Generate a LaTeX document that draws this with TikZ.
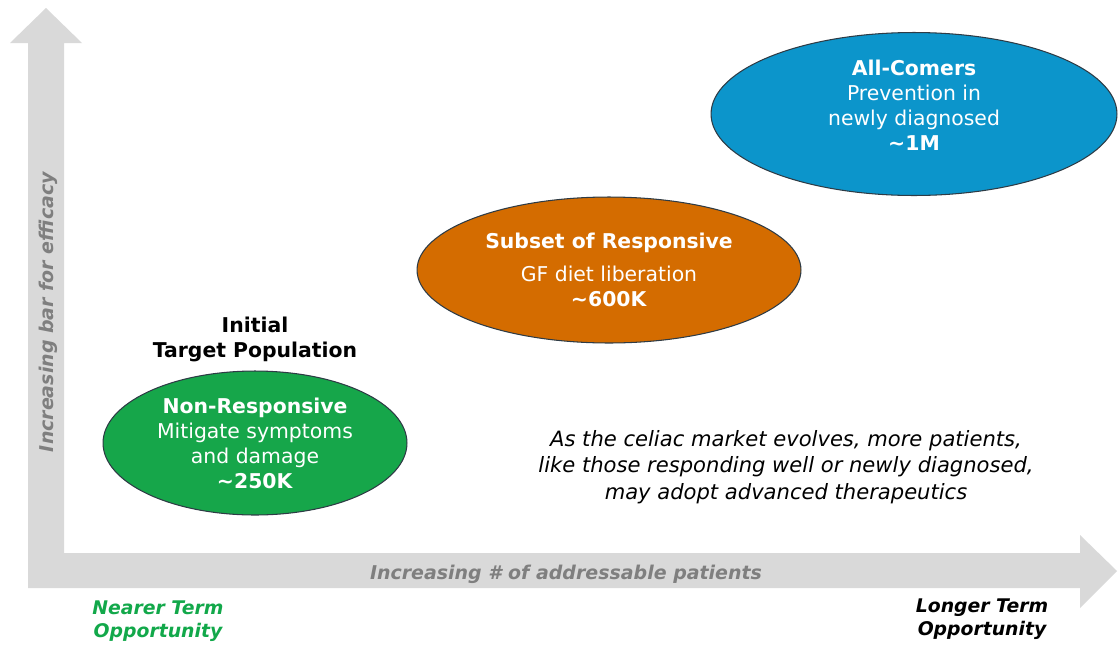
\documentclass[tikz,border=0pt]{standalone}
\usepackage{fontspec}
\setmainfont{DejaVu Sans}[ItalicFont={DejaVu Sans Oblique},BoldItalicFont={DejaVu Sans Bold Oblique}]
\usetikzlibrary{shapes.geometric,positioning}

\definecolor{axisgray}{HTML}{D9D9D9}
\definecolor{labelgray}{HTML}{7F7F7F}
\definecolor{rimgray}{HTML}{2E3B45}
\definecolor{nongreen}{HTML}{16A64A}
\definecolor{subsetorange}{HTML}{D46C00}
\definecolor{comersblue}{HTML}{0C95CB}
\definecolor{neargreen}{HTML}{12A84A}

\begin{document}
\begin{tikzpicture}[x=0.02cm, y=-0.02cm,
		axis/.style={fill=axisgray, draw=none},
		axislab/.style={font=\fontsize{10.8}{13}\selectfont\bfseries\itshape, text=labelgray, inner sep=0pt},
		term/.style={font=\fontsize{10.7}{13}\selectfont\bfseries\itshape, align=center, inner sep=0pt},
		market/.style={ellipse, draw=rimgray, line width=0.6pt, text=white, align=center, inner sep=0pt, font=\fontsize{11.6}{14.2}\selectfont},
		note/.style={font=\fontsize{12}{15}\selectfont\itshape, align=center, inner sep=0pt}
	]
	\useasboundingbox (0,0) rectangle (1118,646);
	
	% --------------------------------------------------------------------
	% axes (one L-shaped double arrow)
	% --------------------------------------------------------------------
	\fill[axis] (28,43) -- (10,43) -- (46,8) -- (82,43) -- (64,43)
		-- (64,553) -- (1080,553) -- (1080,535) -- (1117,571)
		-- (1080,608) -- (1080,588) -- (28,588) -- cycle;
	
	\node[axislab, rotate=90] (yaxis) at (48,312) {Increasing bar for efficacy};
	\node[axislab] (xaxis) at (566,574) {Increasing \# of addressable patients};
	
	\node[term, text=neargreen] (nearer) at (158,621) {Nearer Term\\Opportunity};
	\node[term] (longer) at (982,619) {Longer Term\\Opportunity};
	
	% --------------------------------------------------------------------
	% patient groups
	% --------------------------------------------------------------------
	\node[market, fill=nongreen, minimum width=6.08cm, minimum height=2.88cm] (nonresp) at (255,443) {%
		\textbf{Non-Responsive}\\Mitigate symptoms\\and damage\\\textbf{\textasciitilde 250K}};
	
	\node[font=\fontsize{11.6}{14.2}\selectfont\bfseries, align=center, inner sep=0pt, above=0.17cm of nonresp] (initial) {Initial\\Target Population};
	
	\node[market, fill=subsetorange, minimum width=7.68cm, minimum height=2.92cm] (subset) at (609,270) {%
		\textbf{Subset of Responsive}\\[4.5pt]GF diet liberation\\\textbf{\textasciitilde 600K}};
	
	% blue ellipse with its text set a little above the centre
	\node[market, fill=comersblue, minimum width=8.12cm, minimum height=3.26cm] (comers) at (914,114) {};
	\node[market, draw=none, yshift=0.18cm] (comerstext) at (comers.center) {%
		\textbf{All-Comers}\\Prevention in\\newly diagnosed\\\textbf{\textasciitilde 1M}};
	
	\node[note] (market) at (786,467) {As the celiac market evolves, more patients,\\like those responding well or newly diagnosed,\\may adopt advanced therapeutics};
	
\end{tikzpicture}
\end{document}
